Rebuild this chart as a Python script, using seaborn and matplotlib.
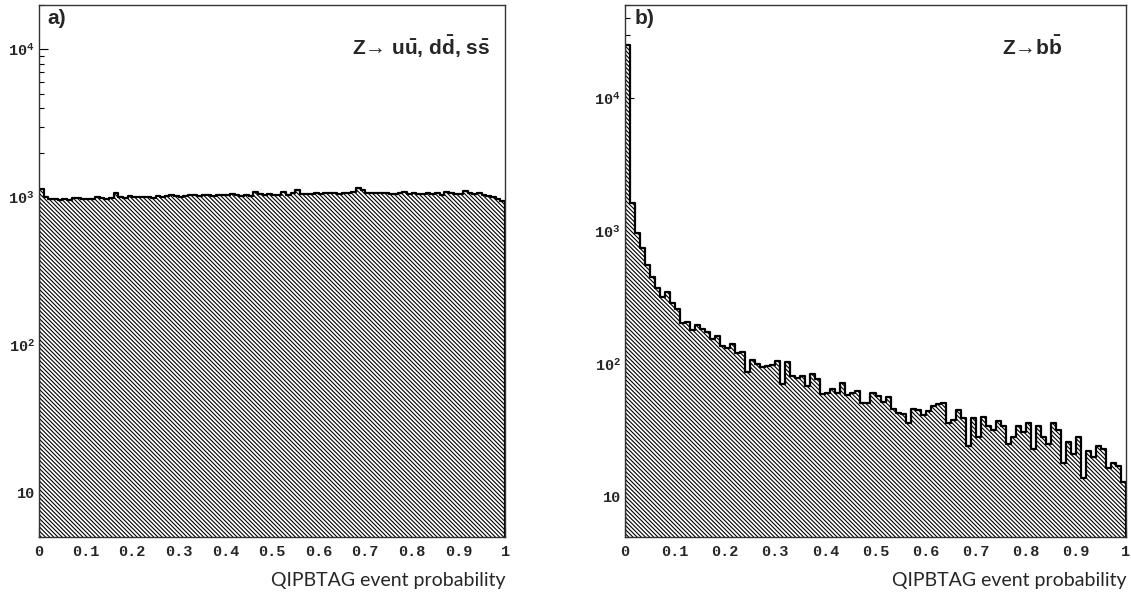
import numpy as np
import seaborn as sns
import matplotlib.pyplot as plt
from matplotlib.ticker import FuncFormatter, MultipleLocator

# QIPBTAG event probability, 100 bins of 0.01 (bin centres)
prob_bins = np.arange(100) * 0.01 + 0.005

# a) Z -> uu, dd, ss
uds_counts = [
    1140, 1010, 975, 965, 960, 970, 962, 990, 985, 968,
    972, 975, 995, 990, 978, 985, 1070, 1010, 990, 1020,
    1000, 995, 1010, 1005, 990, 1015, 1010, 1020, 1030, 1025,
    1005, 1015, 1030, 1035, 1020, 1030, 1040, 1025, 1035, 1040,
    1030, 1045, 1030, 1020, 1040, 1025, 1090, 1045, 1030, 1050,
    1035, 1040, 1080, 1040, 1060, 1110, 1050, 1055, 1045, 1060,
    1050, 1065, 1060, 1075, 1050, 1070, 1065, 1080, 1150, 1110,
    1060, 1075, 1065, 1060, 1070, 1055, 1050, 1060, 1080, 1050,
    1070, 1055, 1045, 1060, 1050, 1070, 1040, 1090, 1060, 1045,
    1055, 1100, 1065, 1045, 1070, 1030, 1020, 1010, 975, 935,
]

# b) Z -> bb
bb_counts = [
    25000, 1620, 960, 750, 555, 450, 375, 320, 345, 288,
    258, 204, 206, 180, 197, 183, 175, 154, 163, 136,
    131, 141, 120, 122, 87, 108, 100, 95, 97, 98,
    105, 71, 104, 81, 79, 81, 68, 84, 77, 59,
    60, 65, 60, 72, 58, 60, 63, 51, 51, 60,
    57, 52, 56, 46, 43, 42, 36, 46, 45, 41,
    44, 48, 50, 51, 36, 38, 45, 39, 24, 39,
    28, 40, 34, 32, 37, 34, 25, 28, 34, 31,
    36, 23, 34, 28, 25, 36, 32, 18, 26, 21,
    28, 14, 22, 20, 24, 23, 16.5, 18, 17, 13,
]

sns.set_style("ticks")
plt.rcParams["font.family"] = ["Liberation Mono", "DejaVu Sans"]
plt.rcParams["font.weight"] = "bold"
plt.rcParams["mathtext.fontset"] = "custom"
plt.rcParams["mathtext.rm"] = "Liberation Sans"
plt.rcParams["mathtext.bf"] = "Liberation Sans:bold"
plt.rcParams["mathtext.it"] = "Liberation Sans:italic"
plt.rcParams["hatch.linewidth"] = 0.8
plt.rcParams["hatch.color"] = "black"


def decade(v, pos):
    e = int(round(np.log10(v)))
    if e == 1:
        return "10"
    return r"$\mathdefault{10^{%d}}$" % e


fig = plt.figure(figsize=(11.31, 5.96), dpi=100)
ax1 = fig.add_axes([39 / 1131, 59 / 596, 466 / 1131, 532 / 596])
ax2 = fig.add_axes([625 / 1131, 59 / 596, 501 / 1131, 532 / 596])

panels = [
    (ax1, uds_counts, (5, 2e4), "a)",
     r"Z→ u$\mathbf{\bar{u}}$, d$\mathbf{\bar{d}}$, s$\mathbf{\bar{s}}$", 0.968),
    (ax2, bb_counts, (5, 5e4), "b)",
     r"Z→b$\mathbf{\bar{b}}$", 0.874),
]

for ax, counts, ylim, tag, proc, xproc in panels:
    sns.histplot(x=prob_bins, weights=counts, bins=100, binrange=(0, 1),
                 element="step", fill=True, facecolor="white",
                 edgecolor="black", linewidth=1.6,
                 hatch="\\\\\\\\\\\\\\\\", ax=ax)
    ax.set_yscale("log")
    ax.set_xlim(0, 1)
    ax.set_ylim(*ylim)
    ax.xaxis.set_major_locator(MultipleLocator(0.1))
    ax.xaxis.set_minor_locator(MultipleLocator(0.02))
    ax.xaxis.set_major_formatter(FuncFormatter(lambda v, p: f"{v:g}"))
    ax.yaxis.set_major_formatter(FuncFormatter(decade))
    ax.tick_params(which="both", direction="in", top=False, right=False,
                   labelsize=11, width=0.8, color="black")
    ax.tick_params(which="major", length=6.5)
    ax.tick_params(which="minor", length=3.4)
    ax.tick_params(axis="x", pad=6)
    ax.tick_params(axis="y", pad=3)
    for s in ax.spines.values():
        s.set_linewidth(1.0)
        s.set_color("#333333")
    ax.set_ylabel("")
    ax.set_xlabel("QIPBTAG event probability", loc="right", labelpad=9,
                  fontfamily="Lato", fontweight="normal", fontsize=14)
    ax.text(0.019, 0.993, tag, transform=ax.transAxes, ha="left", va="top",
            fontfamily="Liberation Sans", fontweight="bold", fontsize=15)
    ax.text(xproc, 0.921, proc, transform=ax.transAxes, ha="right",
            va="center", fontsize=15, fontweight="bold",
            family=["Liberation Sans", "DejaVu Sans"])

fig.savefig("out.png", dpi=100)
